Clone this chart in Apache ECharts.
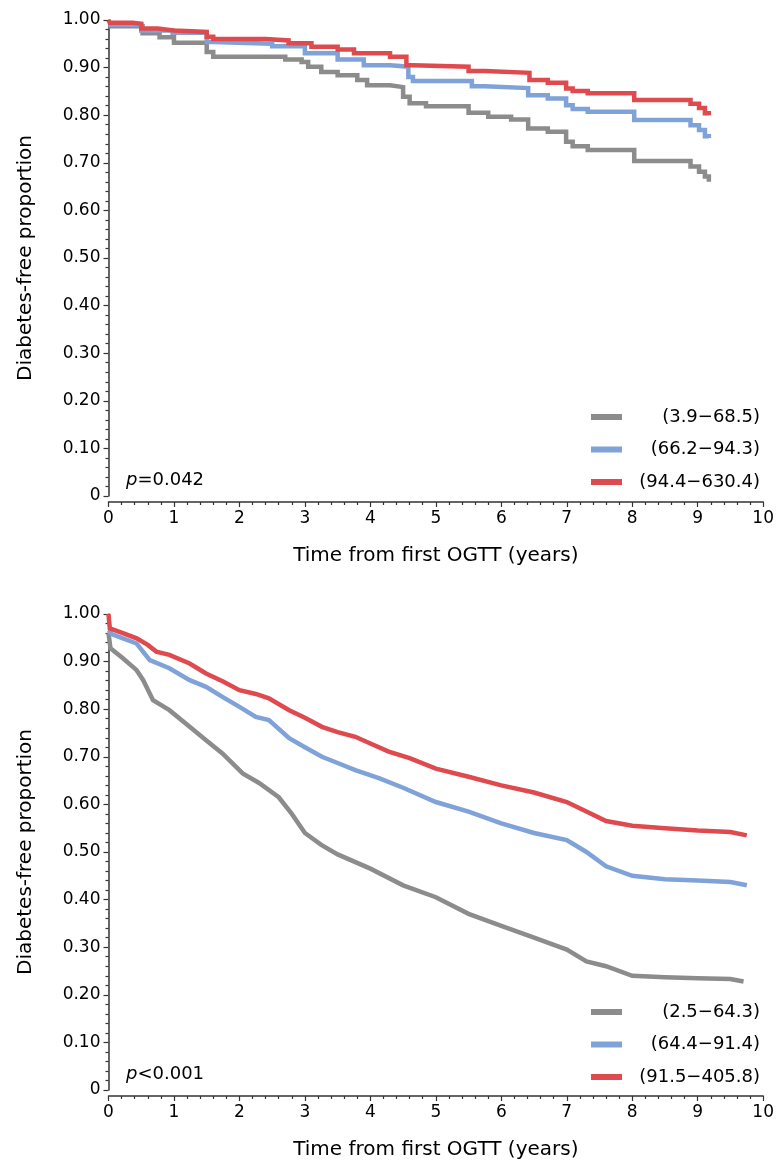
<!DOCTYPE html>
<html>
<head>
<meta charset="utf-8">
<script src="https://cdn.jsdelivr.net/npm/echarts@6/dist/echarts.min.js"></script>
<style>
html,body{margin:0;padding:0;background:#fff;}
#c{width:777px;height:1165px;}
</style>
</head>
<body>
<div id="c"></div>
<script>
// ---------- DATA ----------
const xTicks = [0,1,2,3,4,5,6,7,8,9,10];
const yTicks = [0,0.1,0.2,0.3,0.4,0.5,0.6,0.7,0.8,0.9,1.0];

const topNames = ['(3.9\u221268.5)', '(66.2\u221294.3)', '(94.4\u2212630.4)'];
const botNames = ['(2.5\u221264.3)', '(64.4\u221291.4)', '(91.5\u2212405.8)'];
const topP = '=0.042';
const botP = '<0.001';

// Top panel: Kaplan-Meier step curves [time, proportion]
const topGray = [[0,0.987],[0.52,0.972],[0.78,0.964],[1.0,0.952],[1.5,0.933],[1.6,0.923],[2.7,0.917],[2.95,0.912],[3.05,0.902],[3.25,0.891],[3.5,0.884],[3.8,0.874],[3.95,0.863],[4.3,0.859],[4.5,0.839],[4.6,0.825],[4.85,0.819],[5.5,0.805],[5.8,0.797],[6.15,0.791],[6.41,0.772],[6.71,0.765],[6.99,0.744],[7.09,0.735],[7.32,0.727],[8.03,0.704],[8.89,0.692],[9.02,0.681],[9.11,0.671],[9.17,0.660]];
const topBlue = [[0,0.990],[0.5,0.978],[0.98,0.973],[1.5,0.954],[1.6,0.950],[2.5,0.945],[3.0,0.930],[3.5,0.917],[3.9,0.905],[4.3,0.902],[4.58,0.880],[4.65,0.872],[5.55,0.861],[5.75,0.857],[6.41,0.842],[6.71,0.835],[6.99,0.821],[7.09,0.813],[7.32,0.807],[8.03,0.790],[8.89,0.779],[9.02,0.769],[9.11,0.756],[9.17,0.752]];
const topRed = [[0,1.000],[0.02,0.994],[0.37,0.992],[0.5,0.982],[0.75,0.978],[1.0,0.975],[1.5,0.965],[1.6,0.960],[2.4,0.957],[2.75,0.951],[3.1,0.944],[3.5,0.938],[3.75,0.930],[4.3,0.923],[4.55,0.905],[4.65,0.902],[5.5,0.893],[5.75,0.889],[6.43,0.874],[6.71,0.868],[6.99,0.856],[7.09,0.851],[7.32,0.846],[8.03,0.832],[8.89,0.824],[9.02,0.815],[9.11,0.804],[9.17,0.800]];

// Bottom panel curves [time, proportion]
const botGray = [[0,0.960],[0.03,0.928],[0.22,0.907],[0.43,0.882],[0.53,0.861],[0.68,0.819],[0.93,0.798],[1.24,0.763],[1.49,0.735],[1.74,0.707],[2.05,0.665],[2.3,0.645],[2.6,0.615],[2.8,0.580],[3.0,0.540],[3.25,0.515],[3.5,0.495],[4.0,0.465],[4.5,0.430],[5.0,0.405],[5.5,0.370],[6.0,0.345],[6.5,0.320],[7.0,0.295],[7.3,0.270],[7.6,0.260],[8.0,0.240],[8.5,0.237],[9.0,0.235],[9.5,0.233],[9.7,0.228]];
const botBlue = [[0,0.966],[0.05,0.958],[0.22,0.949],[0.43,0.938],[0.63,0.903],[0.93,0.886],[1.24,0.861],[1.49,0.847],[1.74,0.826],[2.0,0.805],[2.25,0.784],[2.45,0.777],[2.76,0.739],[3.0,0.720],[3.26,0.700],[3.5,0.687],[3.77,0.672],[4.13,0.655],[4.5,0.635],[5.0,0.605],[5.5,0.585],[6.0,0.560],[6.5,0.540],[7.0,0.525],[7.3,0.500],[7.6,0.470],[8.0,0.450],[8.5,0.443],[9.0,0.440],[9.5,0.437],[9.75,0.430]];
const botRed = [[0,1.000],[0.02,0.970],[0.22,0.960],[0.43,0.949],[0.6,0.935],[0.73,0.921],[0.93,0.914],[1.24,0.896],[1.49,0.875],[1.75,0.858],[2.0,0.840],[2.25,0.832],[2.45,0.823],[2.76,0.798],[3.0,0.782],[3.26,0.763],[3.5,0.752],[3.77,0.742],[4.0,0.728],[4.28,0.711],[4.6,0.697],[5.0,0.675],[5.5,0.658],[6.0,0.640],[6.5,0.625],[7.0,0.605],[7.3,0.585],[7.6,0.565],[8.0,0.555],[8.5,0.550],[9.0,0.545],[9.5,0.542],[9.75,0.535]];

// ---------- STYLE ----------
const COLORS = ['#8c8c8c', '#7fa2d8', '#df4a4f'];
const FONT = '"DejaVu Sans", Verdana, sans-serif';
const AX = '#333';

function xAxisCfg(gi){
  return {
    gridIndex: gi, type: 'value', min: 0, max: 10, interval: 1, offset: 6,
    name: 'Time from first OGTT (years)', nameLocation: 'middle', nameGap: 44,
    nameTextStyle: {fontFamily: FONT, fontSize: 20, color: '#000'},
    axisLine: {show: true, onZero: false, lineStyle: {color: AX, width: 1.5}},
    axisTick: {show: true, length: 5, lineStyle: {color: AX, width: 1.2}},
    minorTick: {show: true, splitNumber: 5, length: 3, lineStyle: {color: AX, width: 1.2}},
    axisLabel: {fontFamily: FONT, fontSize: 17, color: '#000', margin: 8,
      formatter: v => xTicks.indexOf(v) >= 0 ? String(v) : ''},
    splitLine: {show: false}
  };
}
function yAxisCfg(gi){
  return {
    gridIndex: gi, type: 'value', min: 0, max: 1, interval: 0.1, offset: 3,
    name: 'Diabetes-free proportion', nameLocation: 'middle', nameGap: 70,
    nameTextStyle: {fontFamily: FONT, fontSize: 20, color: '#000'},
    axisLine: {show: true, lineStyle: {color: AX, width: 1.5}},
    axisTick: {show: true, length: 5, lineStyle: {color: AX, width: 1.2}},
    minorTick: {show: true, splitNumber: 5, length: 3, lineStyle: {color: AX, width: 1.2}},
    axisLabel: {fontFamily: FONT, fontSize: 17, color: '#000', margin: 5,
      formatter: v => { const t = yTicks.find(k => Math.abs(k - v) < 1e-9); return t === undefined ? '' : (t === 0 ? '0' : t.toFixed(2)); }},
    splitLine: {show: false}
  };
}
function mkSeries(name, data, gi, ci, step){
  return {
    name: name, type: 'line', xAxisIndex: gi, yAxisIndex: gi, data: data,
    step: step ? 'end' : false, showSymbol: false, symbol: 'none', animation: false,
    lineStyle: {color: COLORS[ci], width: 4.5, cap: 'butt', join: 'miter'},
    itemStyle: {color: COLORS[ci]}
  };
}
function legendCfg(names, top){
  return {
    data: names, orient: 'vertical', left: 586, top: top,
    icon: 'rect', itemWidth: 31, itemHeight: 6, itemGap: 10.5,
    formatter: n => '{a|' + n + '}',
    textStyle: {fontFamily: FONT, fontSize: 18, color: '#000', lineHeight: 22,
      rich: {a: {fontFamily: FONT, fontSize: 18, color: '#000', width: 133, align: 'right', lineHeight: 22}}},
    selectedMode: false
  };
}
function pTitle(txt, top){
  return {
    text: '{i|p}{n|' + txt + '}', left: 121, top: top,
    textStyle: {fontWeight: 'normal', rich: {
      i: {fontFamily: FONT, fontSize: 18, fontStyle: 'italic', fontWeight: 'normal', color: '#000'},
      n: {fontFamily: FONT, fontSize: 18, fontWeight: 'normal', color: '#000'}
    }}
  };
}

const chart = echarts.init(document.getElementById('c'), null, {renderer: 'canvas'});
chart.setOption({
  backgroundColor: '#fff',
  animation: false,
  title: [pTitle(topP, 466), pTitle(botP, 1060)],
  legend: [legendCfg(topNames, 401), legendCfg(botNames, 996)],
  grid: [
    {left: 108.5, top: 20, width: 658, height: 476},
    {left: 108.5, top: 614, width: 658, height: 476}
  ],
  xAxis: [xAxisCfg(0), xAxisCfg(1)],
  yAxis: [yAxisCfg(0), yAxisCfg(1)],
  series: [
    mkSeries(topNames[0], topGray, 0, 0, true),
    mkSeries(topNames[1], topBlue, 0, 1, true),
    mkSeries(topNames[2], topRed, 0, 2, true),
    mkSeries(botNames[0], botGray, 1, 0, false),
    mkSeries(botNames[1], botBlue, 1, 1, false),
    mkSeries(botNames[2], botRed, 1, 2, false)
  ]
});
</script>
</body>
</html>
